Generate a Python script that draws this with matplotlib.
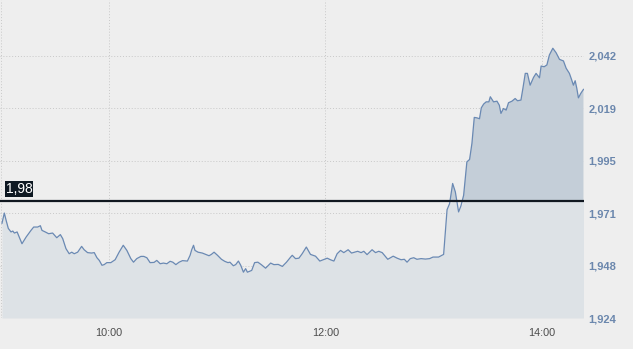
import numpy as np
import matplotlib
matplotlib.use("Agg")
import matplotlib.pyplot as plt

# minutes after 9:00
minutes = [0.5, 1.8, 2.8, 4.0, 5.5, 6.5, 7.4, 8.9, 10.1, 11.6, 13.9, 16.6, 18.1, 20.3, 21.8, 22.7,
           24.5, 26.4, 28.6, 30.9, 32.9, 34.2, 36.0, 37.8, 39.2, 40.6, 42.5, 44.7, 46.1, 48.0,
           50.2, 51.7, 53.2, 54.5, 56.0, 57.2, 58.7, 60.9, 63.3, 65.5, 67.8, 69.8, 72.0, 73.5,
           75.3, 77.6, 79.2, 80.9, 82.7, 84.9, 86.4, 88.3, 90.1, 92.0, 93.8, 95.3, 97.0, 98.8,
           100.7, 103.4, 104.9, 105.8, 106.8, 107.6, 109.3, 111.7, 113.6, 115.4, 116.7, 118.2,
           120.1, 122.3, 124.1, 125.9, 127.0, 128.9, 130.2, 131.7, 133.0, 134.5, 135.7, 136.7,
           139.1, 140.7, 142.5, 144.4, 146.8, 149.6, 151.4, 153.8, 156.1, 158.4, 160.7, 161.6,
           163.4, 165.3, 167.1, 169.4, 171.7, 174.5, 176.9, 178.8, 181.0, 182.8, 184.7, 186.5,
           188.4, 190.2, 192.6, 194.5, 196.1, 197.9, 199.8, 201.3, 203.1, 205.9, 207.8, 209.6,
           211.5, 213.3, 214.6, 217.6, 219.8, 222.0, 223.8, 225.3, 227.1, 229.0, 230.8, 233.1,
           235.5, 237.8, 239.7, 242.8, 245.6, 247.5, 248.9, 250.6, 252.1, 253.9, 255.2, 256.7,
           258.5, 260.0, 261.3, 262.6, 264.1, 265.5, 266.5, 267.8, 269.2, 270.7, 271.5, 273.3,
           275.2, 276.5, 277.4, 278.8, 280.3, 281.6, 283.5, 285.3, 286.6, 288.5, 289.6, 290.9,
           292.1, 293.6, 295.5, 296.9, 298.8, 299.7, 301.4, 302.9, 304.3, 306.2, 308.0, 309.9,
           312.1, 313.6, 315.4, 316.7, 317.6, 318.6, 319.5, 320.4, 321.7, 323.2]

prices = [1966.8, 1971.4, 1968.1, 1964.5, 1962.9, 1963.3, 1962.4, 1962.9, 1960.6, 1957.6, 1960.6,
          1963.6, 1965.1, 1965.1, 1965.7, 1963.6, 1962.9, 1962.1, 1962.4, 1960.3, 1961.7, 1959.9,
          1955.4, 1953.1, 1953.8, 1953.1, 1953.8, 1956.4, 1954.9, 1953.6, 1953.4, 1953.6, 1951.3,
          1950.1, 1947.9, 1948.2, 1949.1, 1949.1, 1950.4, 1953.8, 1956.9, 1954.6, 1950.9, 1949.3,
          1950.9, 1951.9, 1951.9, 1951.3, 1949.1, 1949.2, 1950.1, 1948.6, 1948.9, 1948.6, 1949.7,
          1949.3, 1948.2, 1949.3, 1950.0, 1949.8, 1952.4, 1954.9, 1956.9, 1954.6, 1953.8, 1953.4,
          1952.8, 1952.2, 1952.8, 1953.8, 1952.4, 1950.6, 1949.7, 1949.1, 1949.3, 1947.7, 1948.2,
          1949.8, 1947.9, 1944.8, 1946.4, 1944.8, 1945.6, 1949.1, 1949.3, 1948.2, 1946.6, 1948.9,
          1948.2, 1948.3, 1947.4, 1949.3, 1951.6, 1952.4, 1950.9, 1951.1, 1953.1, 1956.1, 1952.8,
          1952.0, 1949.8, 1950.4, 1951.1, 1950.4, 1949.8, 1953.1, 1954.6, 1953.6, 1954.9, 1953.4,
          1953.8, 1954.2, 1953.6, 1954.2, 1952.7, 1954.9, 1953.6, 1954.2, 1953.6, 1951.9, 1950.6,
          1952.0, 1951.1, 1950.4, 1950.6, 1949.3, 1950.9, 1951.3, 1950.6, 1950.9, 1950.7, 1950.9,
          1951.6, 1951.6, 1952.8, 1972.9, 1975.6, 1984.7, 1980.9, 1971.9, 1974.6, 1979.4, 1994.4,
          1995.5, 2002.7, 2014.4, 2014.2, 2013.8, 2018.7, 2020.4, 2021.4, 2021.4, 2023.7, 2021.4,
          2021.7, 2019.9, 2016.2, 2018.4, 2017.7, 2021.0, 2021.7, 2022.9, 2021.9, 2022.2, 2027.5,
          2034.2, 2034.2, 2028.9, 2032.4, 2034.2, 2032.2, 2037.5, 2037.2, 2038.0, 2042.5, 2045.5,
          2043.5, 2040.5, 2039.8, 2036.5, 2034.2, 2031.2, 2028.9, 2030.9, 2027.5, 2023.2, 2025.2,
          2027.0]

y_ticks = [1924.2, 1947.8, 1971.4, 1995.0, 2018.6, 2042.2]
x_ticks = [60, 180, 300]
x_tick_labels = ["10:00", "12:00", "14:00"]
ref_level = 1976.7
ref_label = "1,98"

plt.rcParams["font.family"] = ["Liberation Sans", "DejaVu Sans"]

bg = "#eeeeee"
fig = plt.figure(figsize=(6.33, 3.49), dpi=100, facecolor=bg)
ax = fig.add_axes([0, 1 - 318 / 349, 584 / 633, 318 / 349], facecolor=bg)

t = np.array(minutes)
p = np.array(prices)
y0 = y_ticks[0]
ax.fill_between(t, y0, np.minimum(p, ref_level), color="#dde2e6", lw=0)
ax.fill_between(t, ref_level, p, where=p > ref_level, interpolate=True, color="#c4ced8", lw=0)
ax.plot(t, p, color="#6a89b3", lw=0.9)

ax.axhline(ref_level, color="#111820", lw=1.6, zorder=5)
ax.text(4.6 / 1.805, ref_level + 2.4, ref_label, color="white", fontsize=10,
        va="bottom", ha="left", zorder=6,
        bbox=dict(boxstyle="square,pad=0.06", fc="#0e1822", ec="none"))

ax.set_xlim(-0.6, 323.5)
ax.set_ylim(y0, 2067.2)

for yv in y_ticks:
    ax.axhline(yv, color="#c8c8c8", lw=0.7, ls=(0, (1, 2)), zorder=0.5)
for xv in [0] + x_ticks:
    ax.axvline(xv, color="#c8c8c8", lw=0.7, ls=(0, (1, 2)), zorder=0.5)

ax.yaxis.tick_right()
ax.set_yticks(y_ticks)
ax.set_yticklabels([f"{v:,.0f}" for v in y_ticks], color="#6b87ad", fontweight="bold", fontsize=8)
ax.set_xticks(x_ticks)
ax.set_xticklabels(x_tick_labels, color="#4d4d4d", fontsize=7.8)
ax.tick_params(length=0)
ax.tick_params(axis="y", pad=3)
ax.tick_params(axis="x", pad=7)
for s in ax.spines.values():
    s.set_visible(False)

fig.savefig("out.png", dpi=100, facecolor=bg)
